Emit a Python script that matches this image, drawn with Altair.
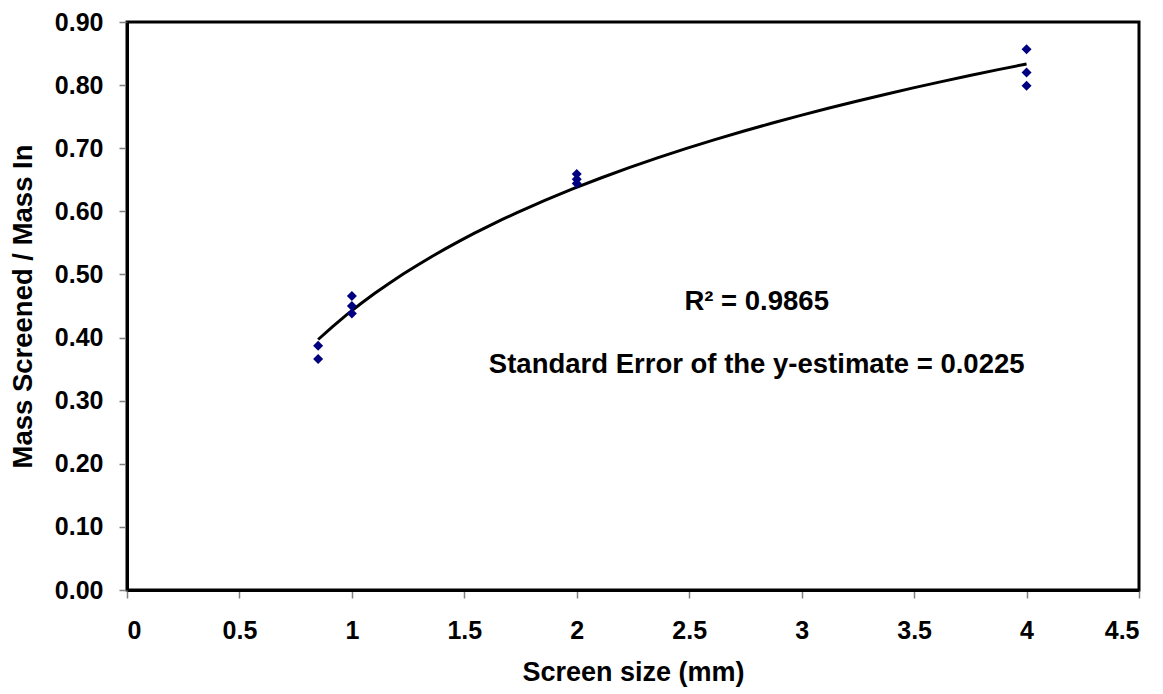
import altair as alt
import pandas as pd

# Data
screen_size = [0.85, 0.85, 1, 1, 1, 2, 2, 2, 4, 4, 4]
mass_ratio = [0.387, 0.366, 0.466, 0.450, 0.438, 0.659, 0.651, 0.644, 0.857, 0.820, 0.799]

ann_x = [2.8, 2.8]
ann_y = [0.456, 0.357]
ann_text = ["R\u00b2 = 0.9865", "Standard Error of the y-estimate = 0.0225"]

x_ticks = [0, 0.5, 1, 1.5, 2, 2.5, 3, 3.5, 4, 4.5]
y_ticks = [0.0, 0.1, 0.2, 0.3, 0.4, 0.5, 0.6, 0.7, 0.8, 0.9]

df = pd.DataFrame({"x": screen_size, "y": mass_ratio})
ann = pd.DataFrame({"x": ann_x, "y": ann_y, "t": ann_text})

FONT = "Liberation Sans"

xscale = alt.Scale(domain=[0, 4.5], nice=False, zero=False)
yscale = alt.Scale(domain=[0, 0.9], nice=False, zero=False)

xaxis = alt.Axis(title="Screen size (mm)", values=x_ticks, labelExpr="format(datum.value, '~g')",
                 grid=False, tickSize=8, tickColor="#808080", tickWidth=1.5,
                 domainColor="black", domainWidth=3, labelPadding=20, titlePadding=16,
                 labelFontSize=25, titleFontSize=27)
yaxis = alt.Axis(title="Mass Screened / Mass In", values=y_ticks, format=".2f",
                 grid=False, tickSize=8, tickColor="#808080", tickWidth=1.5,
                 domainColor="black", domainWidth=3, labelPadding=16, titlePadding=17,
                 labelFontSize=25, titleFontSize=27.5)

points = alt.Chart(df).mark_point(shape="diamond", filled=True, size=100, color="#000080", opacity=1).encode(
    x=alt.X("x:Q", scale=xscale, axis=xaxis),
    y=alt.Y("y:Q", scale=yscale, axis=yaxis),
)

trend = alt.Chart(df).transform_regression("x", "y", method="log").mark_line(
    color="black", strokeWidth=3
).encode(x=alt.X("x:Q", scale=xscale), y=alt.Y("y:Q", scale=yscale))

labels = alt.Chart(ann).mark_text(font=FONT, fontWeight="bold", fontSize=27.5, color="black", align="center", baseline="middle").encode(
    x=alt.X("x:Q", scale=xscale), y=alt.Y("y:Q", scale=yscale), text="t:N"
)

chart = alt.layer(trend, points, labels).properties(
    width=1012, height=568,
    autosize=alt.AutoSizeParams(type="none"),
    padding={"left": 127, "top": 22, "right": 24, "bottom": 104},
).configure_view(stroke="black", strokeWidth=3).configure_axis(
    labelFont=FONT, titleFont=FONT,
    labelFontWeight="bold", titleFontWeight="bold", labelColor="black", titleColor="black"
)

chart.save("out.html", embed_options={"renderer": "svg", "actions": False})
